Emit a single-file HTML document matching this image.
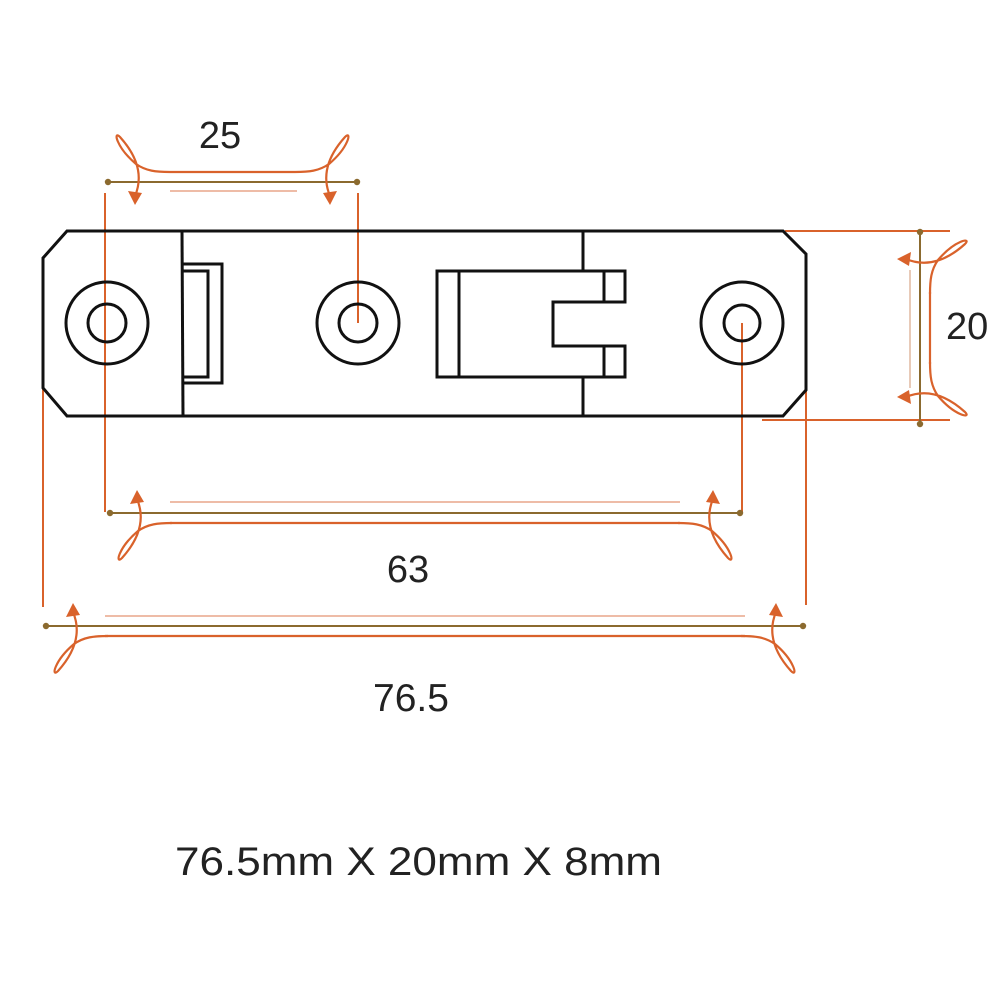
<!DOCTYPE html>
<html><head><meta charset="utf-8"><style>
html,body{margin:0;padding:0;background:#fff}
svg{display:block}
text{font-family:"Liberation Sans",sans-serif;fill:#222}
</style></head><body>
<svg width="1000" height="1000" viewBox="0 0 1000 1000">
<defs>
<g id="end">
<path d="M27,-14 C35,5 30,25 12,45 C5,52 8,35 28,18 C38,11 48,10 62,10" fill="none" stroke="#d9622b" stroke-width="2.2"/>
<polygon points="27,-23 20,-9 34,-11" fill="#d9622b"/>
<circle cx="0" cy="0" r="3.2" fill="#8b6a2f"/>
</g>
</defs>
<g fill="none" stroke="#d9622b" stroke-width="2">
<line x1="105" y1="193" x2="105" y2="512"/>
<line x1="358" y1="193" x2="358" y2="323"/>
<line x1="742" y1="323" x2="742" y2="512"/>
<line x1="43" y1="368" x2="43" y2="607"/>
<line x1="806" y1="380" x2="806" y2="605"/>
<line x1="785" y1="231" x2="950" y2="231"/>
<line x1="762" y1="420" x2="950" y2="420"/>
</g>
<g fill="none" stroke="#111" stroke-width="3">
<polygon points="67,231 783,231 806,254 806,390 783,416 67,416 43,388 43,258"/>
<line x1="182" y1="231" x2="183" y2="416"/>
<line x1="583" y1="231" x2="583" y2="271"/>
<line x1="583" y1="377" x2="583" y2="416"/>
<polyline points="182,264 222,264 222,383 182,383"/>
<polyline points="182,271 208,271 208,377 182,377"/>
<circle cx="107" cy="323" r="41"/><circle cx="107" cy="323" r="19"/>
<circle cx="358" cy="323" r="41"/><circle cx="358" cy="323" r="19"/>
<circle cx="742" cy="323" r="41"/><circle cx="742" cy="323" r="18"/>
<polygon points="437,271 625,271 625,302 553,302 553,346 625,346 625,377 437,377"/>
<line x1="459" y1="271" x2="459" y2="377"/>
<line x1="604" y1="271" x2="604" y2="302"/>
<line x1="604" y1="346" x2="604" y2="377"/>
</g>
<line x1="108" y1="182" x2="357" y2="182" stroke="#8b6a2f" stroke-width="2"/>
<line x1="170" y1="172" x2="295" y2="172" stroke="#d9622b" stroke-width="2.2"/>
<line x1="170" y1="191" x2="297" y2="191" stroke="#e8a58a" stroke-width="1.5"/>
<use href="#end" transform="matrix(1,0,0,-1,108,182)"/>
<use href="#end" transform="matrix(-1,0,0,-1,357,182)"/>
<text x="220" y="148" font-size="38" text-anchor="middle">25</text>
<line x1="110" y1="513" x2="740" y2="513" stroke="#8b6a2f" stroke-width="2"/>
<line x1="170" y1="523" x2="680" y2="523" stroke="#d9622b" stroke-width="2.2"/>
<line x1="170" y1="502" x2="680" y2="502" stroke="#e8a58a" stroke-width="1.5"/>
<use href="#end" transform="translate(110,513)"/>
<use href="#end" transform="matrix(-1,0,0,1,740,513)"/>
<text x="408" y="582" font-size="38" text-anchor="middle">63</text>
<line x1="46" y1="626" x2="803" y2="626" stroke="#8b6a2f" stroke-width="2"/>
<line x1="105" y1="636" x2="745" y2="636" stroke="#d9622b" stroke-width="2.2"/>
<line x1="105" y1="616" x2="745" y2="616" stroke="#e8a58a" stroke-width="1.5"/>
<use href="#end" transform="translate(46,626)"/>
<use href="#end" transform="matrix(-1,0,0,1,803,626)"/>
<text x="411" y="711" font-size="39" text-anchor="middle">76.5</text>
<line x1="920" y1="232" x2="920" y2="424" stroke="#8b6a2f" stroke-width="2"/>
<line x1="930" y1="292" x2="930" y2="364" stroke="#d9622b" stroke-width="2.2"/>
<line x1="910" y1="270" x2="910" y2="388" stroke="#e0b8a0" stroke-width="1.5"/>
<use href="#end" transform="matrix(0,1,1,0,920,232)"/>
<use href="#end" transform="matrix(0,-1,1,0,920,424)"/>
<text x="946" y="339" font-size="38">20</text>
<text x="175" y="875" font-size="40" textLength="487" lengthAdjust="spacingAndGlyphs">76.5mm X 20mm X 8mm</text>
</svg>
</body></html>
